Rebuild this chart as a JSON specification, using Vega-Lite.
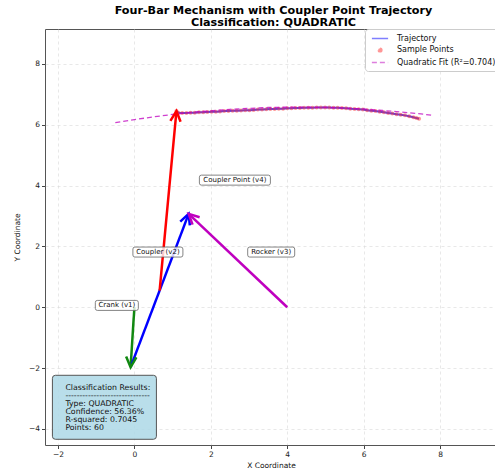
{
  "$schema": "https://vega.github.io/schema/vega-lite/v6.json",
  "width": 452,
  "height": 416,
  "autosize": {"type": "none"},
  "padding": {"left": 45, "top": 29, "right": 0, "bottom": 23},
  "background": "white",
  "title": {
    "text": ["Four-Bar Mechanism with Coupler Point Trajectory", "Classification: QUADRATIC"],
    "font": "DejaVu Sans",
    "fontSize": 11.2,
    "fontWeight": "bold",
    "color": "black",
    "anchor": "middle",
    "dx": 2.5,
    "offset": 0,
    "lineHeight": 12
  },
  "config": {
    "font": "DejaVu Sans",
    "view": {"stroke": "#555555", "strokeWidth": 1},
    "axis": {
      "domain": false,
      "grid": true,
      "gridColor": "#d8d8d8",
      "gridDash": [3, 3],
      "gridWidth": 0.6,
      "tickColor": "#444444",
      "tickSize": 3.5,
      "labelFont": "DejaVu Sans",
      "labelFontSize": 7.5,
      "labelColor": "#222222",
      "labelPadding": 2,
      "titleFont": "DejaVu Sans",
      "titleFontSize": 7.5,
      "titleFontWeight": "normal",
      "titleColor": "#111111"
    }
  },
  "datasets": {
    "traj": [
      {"x": 1.10, "y": 6.45}, {"x": 1.15, "y": 6.40}, {"x": 1.25, "y": 6.39}, {"x": 1.36, "y": 6.39},
      {"x": 1.47, "y": 6.40}, {"x": 1.58, "y": 6.40}, {"x": 1.69, "y": 6.41}, {"x": 1.80, "y": 6.41},
      {"x": 1.91, "y": 6.42}, {"x": 2.02, "y": 6.43}, {"x": 2.13, "y": 6.43}, {"x": 2.24, "y": 6.44},
      {"x": 2.35, "y": 6.45}, {"x": 2.46, "y": 6.45}, {"x": 2.57, "y": 6.46}, {"x": 2.68, "y": 6.46},
      {"x": 2.79, "y": 6.47}, {"x": 2.90, "y": 6.48}, {"x": 3.01, "y": 6.48}, {"x": 3.12, "y": 6.49},
      {"x": 3.23, "y": 6.50}, {"x": 3.34, "y": 6.50}, {"x": 3.45, "y": 6.51}, {"x": 3.56, "y": 6.52},
      {"x": 3.67, "y": 6.52}, {"x": 3.78, "y": 6.53}, {"x": 3.89, "y": 6.53}, {"x": 4.00, "y": 6.54},
      {"x": 4.11, "y": 6.54}, {"x": 4.22, "y": 6.55}, {"x": 4.33, "y": 6.55}, {"x": 4.44, "y": 6.56},
      {"x": 4.55, "y": 6.56}, {"x": 4.66, "y": 6.56}, {"x": 4.77, "y": 6.57}, {"x": 4.88, "y": 6.57},
      {"x": 4.99, "y": 6.57}, {"x": 5.10, "y": 6.57}, {"x": 5.21, "y": 6.56}, {"x": 5.32, "y": 6.56},
      {"x": 5.43, "y": 6.55}, {"x": 5.54, "y": 6.54}, {"x": 5.65, "y": 6.53}, {"x": 5.76, "y": 6.52},
      {"x": 5.87, "y": 6.51}, {"x": 5.98, "y": 6.50}, {"x": 6.09, "y": 6.48}, {"x": 6.20, "y": 6.46},
      {"x": 6.31, "y": 6.45}, {"x": 6.42, "y": 6.43}, {"x": 6.53, "y": 6.41}, {"x": 6.64, "y": 6.39},
      {"x": 6.75, "y": 6.37}, {"x": 6.86, "y": 6.35}, {"x": 6.97, "y": 6.33}, {"x": 7.08, "y": 6.31},
      {"x": 7.19, "y": 6.28}, {"x": 7.30, "y": 6.25}, {"x": 7.38, "y": 6.22}, {"x": 7.45, "y": 6.20}
    ],
    "fit": [
      {"x": -0.5, "y": 6.07}, {"x": 0.0, "y": 6.17}, {"x": 0.5, "y": 6.26}, {"x": 1.0, "y": 6.34},
      {"x": 1.5, "y": 6.41}, {"x": 2.0, "y": 6.46}, {"x": 2.5, "y": 6.51}, {"x": 3.0, "y": 6.54},
      {"x": 3.5, "y": 6.57}, {"x": 4.0, "y": 6.58}, {"x": 4.5, "y": 6.58}, {"x": 5.0, "y": 6.57},
      {"x": 5.5, "y": 6.55}, {"x": 6.0, "y": 6.52}, {"x": 6.5, "y": 6.47}, {"x": 7.0, "y": 6.42},
      {"x": 7.5, "y": 6.36}, {"x": 7.8, "y": 6.31}
    ],
    "arrows": [
      {"name": "Crank (v1)", "x": 0.0, "y": 0.0, "x2": -0.10, "y2": -1.97},
      {"name": "Coupler (v2)", "x": -0.10, "y": -1.97, "x2": 1.42, "y2": 3.07},
      {"name": "Rocker (v3)", "x": 4.0, "y": 0.0, "x2": 1.42, "y2": 3.07},
      {"name": "Coupler Point (v4)", "x": 0.66, "y": 0.55, "x2": 1.10, "y2": 6.45}
    ],
    "labels": [
      {"label": "Crank (v1)", "x": -0.46, "y": 0.06},
      {"label": "Coupler (v2)", "x": 0.615, "y": 1.815},
      {"label": "Rocker (v3)", "x": 3.58, "y": 1.815},
      {"label": "Coupler Point (v4)", "x": 2.63, "y": 4.18}
    ],
    "info": [
      {"x": -0.785, "y": -3.29, "text": "Classification Results:\n------------------------------\nType: QUADRATIC\nConfidence: 56.36%\nR-squared: 0.7045\nPoints: 60"}
    ]
  },
  "encoding": {
    "x": {
      "field": "x", "type": "quantitative",
      "scale": {"domain": [-2.34, 9.49], "nice": false, "zero": false},
      "axis": {"values": [-2, 0, 2, 4, 6, 8], "title": "X Coordinate", "titlePadding": 3, "labelExpr": "replace(datum.label, '-', '\u2212')"}
    },
    "y": {
      "field": "y", "type": "quantitative",
      "scale": {"domain": [-4.53, 9.15], "nice": false, "zero": false},
      "axis": {"values": [-4, -2, 0, 2, 4, 6, 8], "title": "Y Coordinate", "titlePadding": 7, "labelExpr": "replace(datum.label, '-', '\u2212')"}
    }
  },
  "layer": [
    {
      "data": {"name": "traj"},
      "mark": {"type": "line", "strokeWidth": 2, "opacity": 0.75},
      "encoding": {
        "color": {
          "datum": "Trajectory",
          "scale": {
            "domain": ["Trajectory", "Sample Points", "Quadratic Fit (R\u00b2=0.704)"],
            "range": ["#0000ff", "#ff3030", "#bf00bf"]
          },
          "legend": {
            "title": null,
            "orient": "none",
            "legendX": 320,
            "legendY": 0,
            "padding": 4,
            "fillColor": "white",
            "strokeColor": "#cccccc",
            "cornerRadius": 3,
            "labelFont": "DejaVu Sans",
            "labelFontSize": 8,
            "labelColor": "#111111",
            "labelOffset": 11.5,
            "symbolOffset": 5.5,
            "rowPadding": 1.5,
            "symbolType": {"expr": "datum.value === 'Sample Points' ? 'circle' : 'M-1.8,0H1.8'"},
            "symbolSize": {"expr": "datum.value === 'Sample Points' ? 14 : 81"},
            "symbolFillColor": {"expr": "datum.value === 'Sample Points' ? '#ff3030' : 'transparent'"},
            "symbolStrokeColor": {"expr": "datum.value === 'Trajectory' ? '#0000ff' : datum.value === 'Sample Points' ? 'transparent' : '#bf00bf'"},
            "symbolStrokeWidth": 1.5,
            "symbolDash": {"expr": "datum.value === 'Trajectory' ? [1, 0] : [5, 3]"},
            "symbolOpacity": {"expr": "datum.value === 'Sample Points' ? 0.6 : 0.75"}
          }
        }
      }
    },
    {
      "data": {"name": "traj"},
      "mark": {"type": "point", "filled": true, "size": 16, "opacity": 0.5},
      "encoding": {"color": {"datum": "Sample Points"}}
    },
    {
      "data": {"name": "fit"},
      "mark": {"type": "line", "strokeWidth": 1.3, "strokeDash": [5, 3], "opacity": 0.75},
      "encoding": {"color": {"datum": "Quadratic Fit (R\u00b2=0.704)"}}
    },
    {
      "data": {"name": "arrows"},
      "mark": {"type": "rule", "strokeWidth": 2.5},
      "encoding": {
        "x2": {"field": "x2"},
        "y2": {"field": "y2"},
        "stroke": {
          "field": "name", "type": "nominal",
          "scale": {"domain": ["Crank (v1)", "Coupler (v2)", "Rocker (v3)", "Coupler Point (v4)"], "range": ["#118811", "#0000ff", "#bf00bf", "#ff0000"]},
          "legend": null
        }
      }
    },
    {
      "data": {"name": "arrows"},
      "transform": [
        {"calculate": "atan2((datum.x2 - datum.x) * 38.2, (datum.y2 - datum.y) * 30.41) * 180 / PI", "as": "ang"}
      ],
      "mark": {"type": "point", "filled": false, "strokeWidth": 2.5, "size": 420, "opacity": 1, "shape": "M-0.5,1L0,0L0.5,1"},
      "encoding": {
        "x": {"field": "x2", "type": "quantitative"},
        "y": {"field": "y2", "type": "quantitative"},
        "angle": {"field": "ang", "type": "quantitative", "scale": null},
        "stroke": {"field": "name", "type": "nominal", "legend": null}
      }
    },
    {
      "data": {"name": "labels"},
      "mark": {"type": "point", "filled": true, "size": 10000, "fill": "white", "fillOpacity": 0.8, "stroke": "#666666", "strokeWidth": 0.8, "opacity": 1},
      "encoding": {
        "shape": {
          "field": "label", "type": "nominal", "legend": null,
          "scale": {
            "domain": ["Crank (v1)", "Coupler (v2)", "Rocker (v3)", "Coupler Point (v4)"],
            "range": [
              "M-0.39,-0.1H0.39Q0.43,-0.1 0.43,-0.06V0.06Q0.43,0.1 0.39,0.1H-0.39Q-0.43,0.1 -0.43,0.06V-0.06Q-0.43,-0.1 -0.39,-0.1Z",
              "M-0.46,-0.1H0.46Q0.5,-0.1 0.5,-0.06V0.06Q0.5,0.1 0.46,0.1H-0.46Q-0.5,0.1 -0.5,0.06V-0.06Q-0.5,-0.1 -0.46,-0.1Z",
              "M-0.43,-0.1H0.43Q0.47,-0.1 0.47,-0.06V0.06Q0.47,0.1 0.43,0.1H-0.43Q-0.47,0.1 -0.47,0.06V-0.06Q-0.47,-0.1 -0.43,-0.1Z",
              "M-0.67,-0.1H0.67Q0.71,-0.1 0.71,-0.06V0.06Q0.71,0.1 0.67,0.1H-0.67Q-0.71,0.1 -0.71,0.06V-0.06Q-0.71,-0.1 -0.67,-0.1Z"
            ]
          }
        }
      }
    },
    {
      "data": {"name": "labels"},
      "mark": {"type": "text", "fontSize": 7, "font": "DejaVu Sans", "color": "#111111", "align": "center", "baseline": "middle"},
      "encoding": {"text": {"field": "label"}}
    },
    {
      "data": {"name": "info"},
      "mark": {"type": "point", "filled": true, "size": 10000, "fill": "#add8e6", "fillOpacity": 0.85, "stroke": "#555555", "strokeWidth": 1, "opacity": 1,
        "shape": "M-0.98,-0.64H0.98Q1.04,-0.64 1.04,-0.58V0.58Q1.04,0.64 0.98,0.64H-0.98Q-1.04,0.64 -1.04,0.58V-0.58Q-1.04,-0.64 -0.98,-0.64Z"}
    },
    {
      "data": {"name": "info"},
      "mark": {"type": "text", "fontSize": 7.8, "font": "DejaVu Sans", "color": "#111111", "align": "left", "baseline": "top", "lineBreak": "\n", "lineHeight": 8, "dx": -39, "dy": -23},
      "encoding": {"text": {"field": "text"}}
    }
  ]
}
